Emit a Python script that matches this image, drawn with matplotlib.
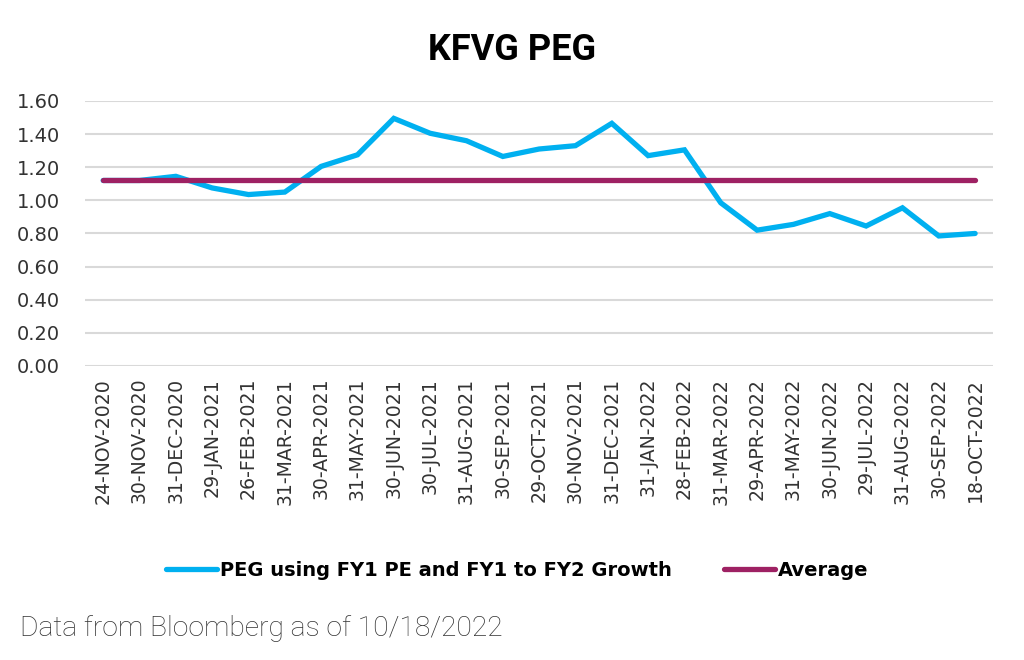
import matplotlib.pyplot as plt

dates = ["24-NOV-2020", "30-NOV-2020", "31-DEC-2020", "29-JAN-2021", "26-FEB-2021",
         "31-MAR-2021", "30-APR-2021", "31-MAY-2021", "30-JUN-2021", "30-JUL-2021",
         "31-AUG-2021", "30-SEP-2021", "29-OCT-2021", "30-NOV-2021", "31-DEC-2021",
         "31-JAN-2022", "28-FEB-2022", "31-MAR-2022", "29-APR-2022", "31-MAY-2022",
         "30-JUN-2022", "29-JUL-2022", "31-AUG-2022", "30-SEP-2022", "18-OCT-2022"]
peg = [1.12, 1.12, 1.145, 1.075, 1.035, 1.05, 1.205, 1.275, 1.495, 1.405,
       1.36, 1.265, 1.31, 1.33, 1.465, 1.27, 1.305, 0.985, 0.82, 0.855,
       0.92, 0.845, 0.955, 0.785, 0.80]
average = [1.125] * len(dates)
yticks = [0.0, 0.2, 0.4, 0.6, 0.8, 1.0, 1.2, 1.4, 1.6]

BLUE = "#00B0F0"
PURPLE = "#9E2163"

plt.rcParams['font.family'] = ['DejaVu Sans']

fig = plt.figure(figsize=(10.24, 6.6), dpi=100)
ax = fig.add_axes([0.083, 0.4455, 0.887, 0.4015])

x = list(range(len(dates)))
ax.plot(x, peg, color=BLUE, lw=3.8, solid_capstyle='round', solid_joinstyle='miter',
        label="PEG using FY1 PE and FY1 to FY2 Growth", zorder=3)
ax.plot(x, average, color=PURPLE, lw=3.8, solid_capstyle='round',
        label="Average", zorder=4)

ax.set_xlim(-0.5, len(dates) - 0.5)
ax.set_ylim(0, 1.6)
ax.set_yticks(yticks)
ax.set_yticklabels(["%.2f" % v for v in yticks], fontsize=14, color="#333333")
ax.set_xticks(x)
ax.set_xticklabels(dates, rotation=90, fontsize=13.6, color="#333333")
ax.tick_params(axis='both', length=0)
ax.tick_params(axis='y', pad=18)
ax.tick_params(axis='x', pad=8.5)
ax.grid(axis='y', color="#D9D9D9", lw=1.5)
ax.set_axisbelow(True)
for s in ax.spines.values():
    s.set_visible(False)

fig.text(0.5, 0.925, "KFVG PEG", ha='center', va='center', fontsize=26,
         fontweight='bold', family=['Roboto', 'DejaVu Sans'])

ax.legend(loc='center', bbox_to_anchor=(0.505, 0.136), bbox_transform=fig.transFigure,
          ncol=2, frameon=False, handlelength=2.6, handletextpad=0.15,
          columnspacing=2.7, prop={'size': 14, 'weight': 'bold'})

fig.text(0.02, 0.048, "Data from Bloomberg as of 10/18/2022", ha='left', va='center',
         fontsize=20.3, fontweight='light', color="#333333", family=['Roboto', 'DejaVu Sans'])

fig.savefig("out.png", dpi=100)
